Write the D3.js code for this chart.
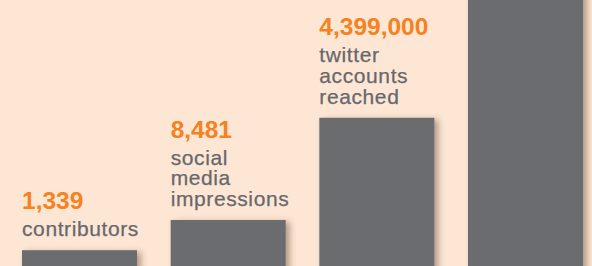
<!DOCTYPE html>
<html>
<head>
<meta charset="utf-8">
<script src="https://cdn.jsdelivr.net/npm/d3@7/dist/d3.min.js"></script>
<style>
  html, body { margin: 0; padding: 0; background: #fde6d4; }
  svg { display: block; }
</style>
</head>
<body>
<div id="chart"></div>
<script>
// Reach stats — bars on a log scale, last bar runs off the top of the frame
const keys = ["contributors", "impressions", "twitter", "more"];
const values = [1339, 8481, 4399000, null];          // null = cropped, above the frame
const numberLabels = ["1,339", "8,481", "4,399,000", ""];
const textLines = [
  ["contributors"],
  ["social", "media", "impressions"],
  ["twitter", "accounts", "reached"],
  []
];

(() => {
  const W = 592, H = 266;
  const C = { bg: "#fde6d4", bar: "#6b6c70", num: "#f58220", txt: "#67686c" };
  const FONT = "'Liberation Sans', Arial, Helvetica, sans-serif";

  const svg = d3.select("#chart").append("svg")
    .attr("width", W).attr("height", H);

  svg.append("rect").attr("width", W).attr("height", H).attr("fill", C.bg);

  const defs = svg.append("defs");
  defs.append("filter").attr("id", "shadow")
    .attr("x", "-20%").attr("y", "-20%").attr("width", "150%").attr("height", "150%")
    .append("feDropShadow")
    .attr("dx", 4).attr("dy", 2).attr("stdDeviation", 3)
    .attr("flood-color", "#5a3a22").attr("flood-opacity", 0.45);

  const x = d3.scaleBand().domain(keys).range([22, 583]).paddingInner(0.2265).paddingOuter(0);
  const y = d3.scaleLog().domain([510, 5.9e9]).range([H, 0]);

  const rows = keys.map((k, i) => ({ k, v: values[i], num: numberLabels[i], lines: textLines[i] }));
  const barTop = d => d.v == null ? -20 : y(d.v);

  svg.selectAll("rect.bar").data(rows).join("rect")
    .attr("class", "bar")
    .attr("x", d => x(d.k)).attr("width", x.bandwidth())
    .attr("y", barTop).attr("height", d => H + 20 - barTop(d))
    .attr("fill", C.bar)
    .attr("filter", "url(#shadow)");

  // 标签：数字（橙色粗体）在上，说明文字多行堆叠，末行基线距柱顶 GAP
  const LH = 20.7, GAP = 14, NUM_GAP = 27;
  rows.filter(d => d.v != null).forEach(d => {
    const x0 = x(d.k);
    const lastBase = barTop(d) - GAP;
    const n = d.lines.length;
    const firstBase = lastBase - (n - 1) * LH;
    const t = svg.append("text")
      .attr("x", x0).attr("y", firstBase)
      .attr("style", `font:21px ${FONT};letter-spacing:0.6px;fill:${C.txt};stroke:${C.txt};stroke-width:0.25px`);
    d.lines.forEach((s, j) => {
      t.append("tspan").attr("x", x0).attr("dy", j === 0 ? 0 : LH).text(s);
    });
    svg.append("text")
      .attr("x", x0).attr("y", firstBase - NUM_GAP)
      .attr("style", `font:bold 24.5px ${FONT};fill:${C.num}`)
      .text(d.num);
  });
})();
</script>
</body>
</html>
